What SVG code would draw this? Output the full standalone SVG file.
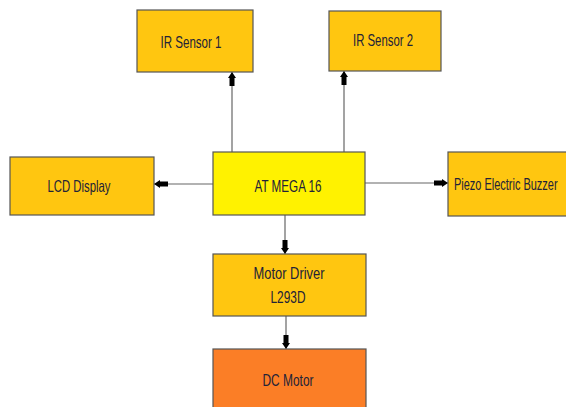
<svg xmlns="http://www.w3.org/2000/svg" width="566" height="407" viewBox="0 0 566 407">
<style>
.box{stroke:#555;stroke-width:1.2}
.amb{fill:#FFC610}
.yel{fill:#FFF200}
.org{fill:#FB7E26}
text{font-family:"Liberation Sans",Arial,sans-serif;font-size:16.5px;fill:#222238;text-anchor:middle}
.c{stroke:#666;stroke-width:1.2;fill:none;marker-end:url(#ah)}
</style>
<defs>
<marker id="ah" viewBox="0 0 14 10" refX="14" refY="5" markerWidth="14" markerHeight="10" markerUnits="userSpaceOnUse" orient="auto">
<path d="M0,2.5 L8,2.5 L8,1 L14,5 L8,9 L8,7.5 L0,7.5 Z" fill="#000"/>
</marker>
</defs>
<g id="connectors">
<line class="c" x1="232" y1="152" x2="232" y2="72"/>
<line class="c" x1="344" y1="152" x2="344" y2="71"/>
<line class="c" x1="213" y1="184" x2="154" y2="184"/>
<line class="c" x1="365" y1="183" x2="448" y2="183"/>
<line class="c" x1="285" y1="215" x2="285" y2="254"/>
<line class="c" x1="286" y1="316" x2="286" y2="349"/>
</g>
<g id="ir1"><rect class="box amb" x="137" y="10" width="116" height="62"/><text x="191" y="48" textLength="61" lengthAdjust="spacingAndGlyphs">IR Sensor 1</text></g>
<g id="ir2"><rect class="box amb" x="329" y="11" width="112" height="60"/><text x="383" y="46" textLength="60" lengthAdjust="spacingAndGlyphs">IR Sensor 2</text></g>
<g id="lcd"><rect class="box amb" x="10" y="157" width="144" height="58"/><text x="79" y="192" textLength="63" lengthAdjust="spacingAndGlyphs">LCD Display</text></g>
<g id="atmega"><rect class="box yel" x="213" y="152" width="152" height="63"/><text x="288" y="192" textLength="67" lengthAdjust="spacingAndGlyphs">AT MEGA 16</text></g>
<g id="piezo"><rect class="box amb" x="448" y="152" width="120" height="64"/><text transform="translate(454,190) scale(0.665,1)" style="text-anchor:start">Piezo Electric Buzzer</text></g>
<g id="driver"><rect class="box amb" x="213" y="254" width="153" height="62"/><text x="289" y="279" textLength="71" lengthAdjust="spacingAndGlyphs">Motor Driver</text><text x="288" y="303" textLength="35" lengthAdjust="spacingAndGlyphs">L293D</text></g>
<g id="dcmotor"><rect class="box org" x="213" y="349" width="153" height="60"/><text x="288" y="386" textLength="51" lengthAdjust="spacingAndGlyphs">DC Motor</text></g>
</svg>
